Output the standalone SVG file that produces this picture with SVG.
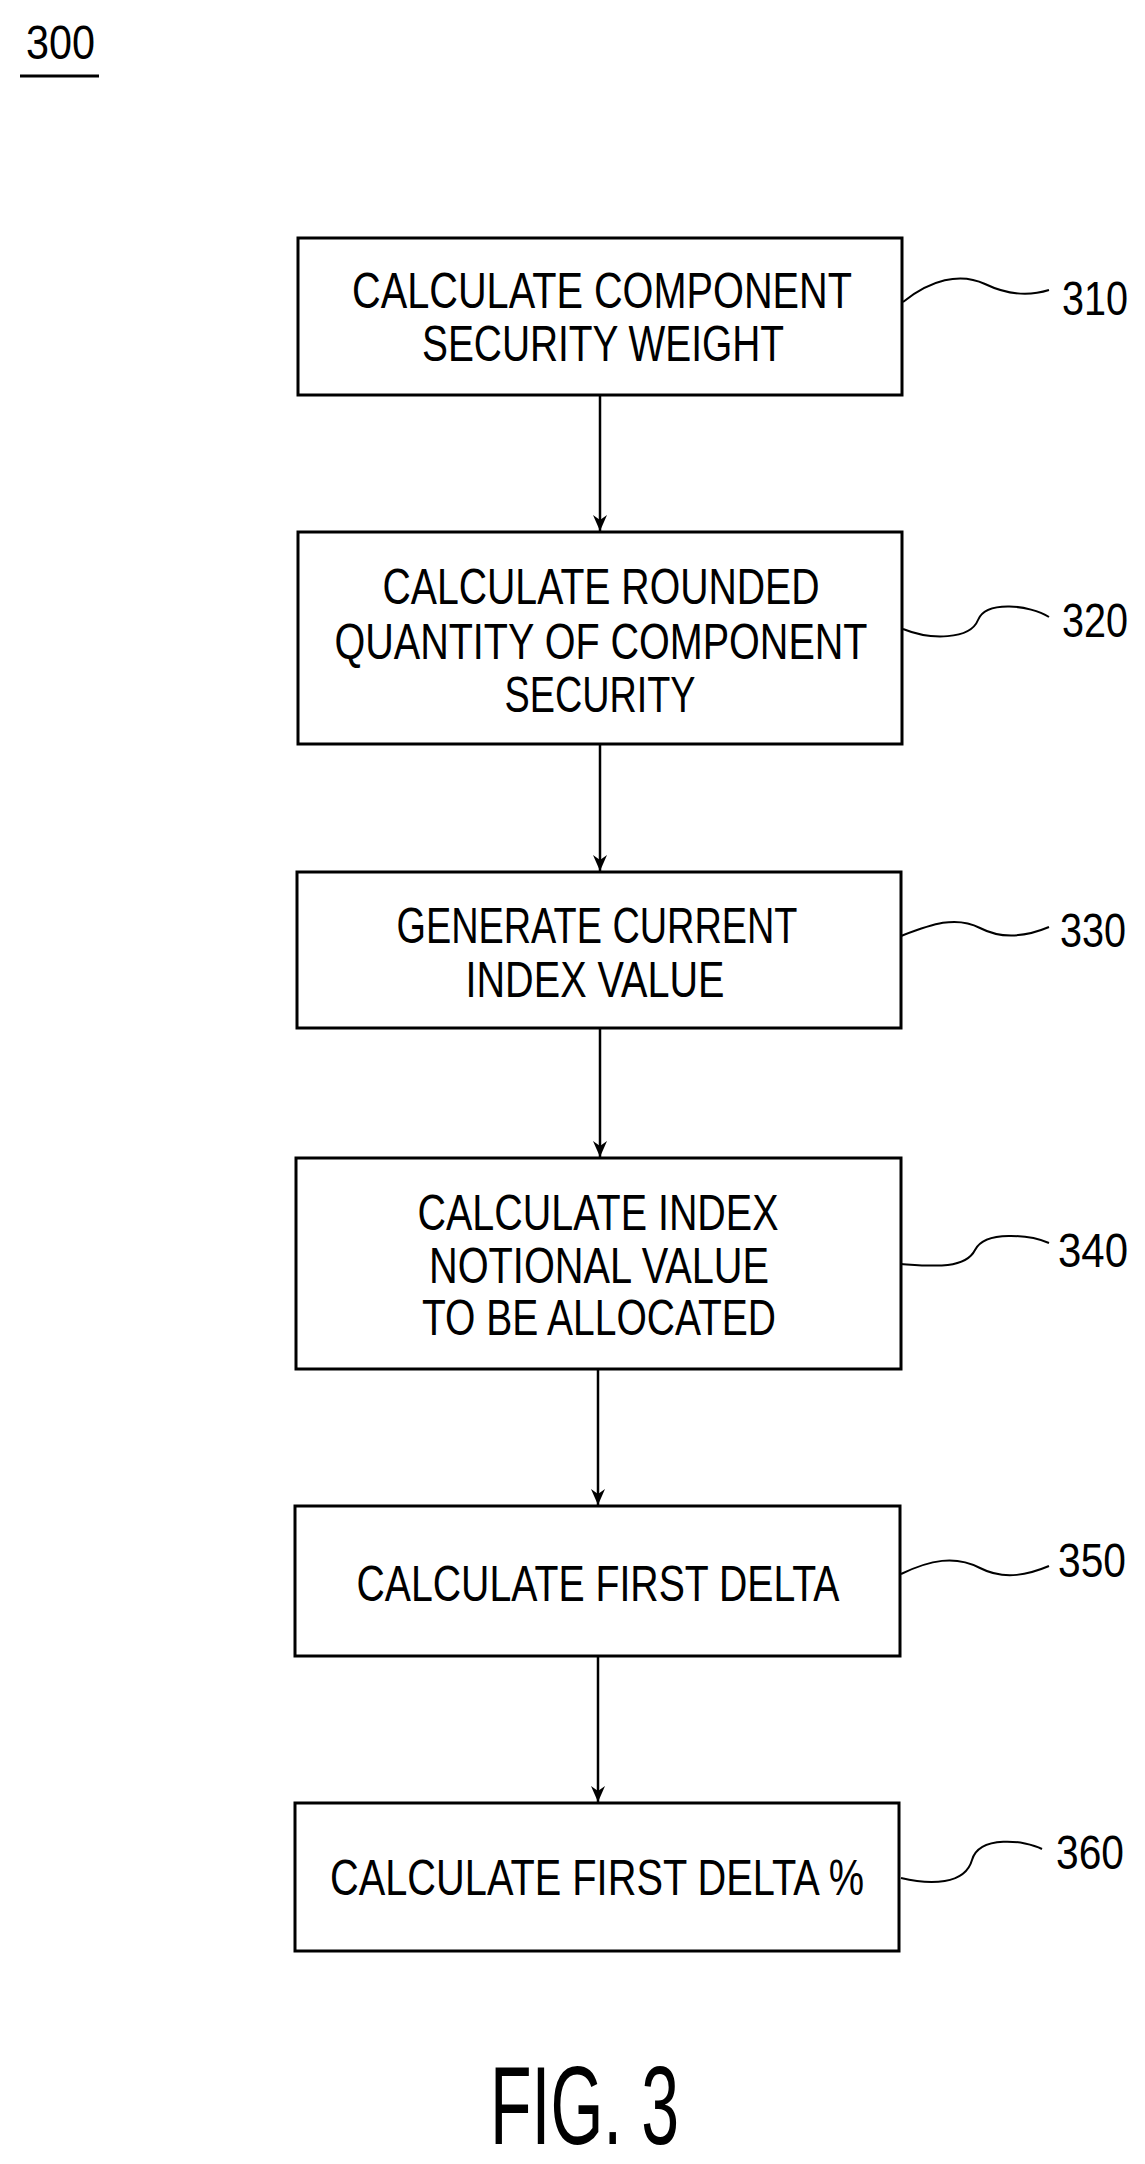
<svg xmlns="http://www.w3.org/2000/svg" width="1145" height="2164" viewBox="0 0 1145 2164">
<style>
.box{fill:#fff;stroke:#000;stroke-width:3}
.t{font-family:"Liberation Sans",Arial,sans-serif;font-size:50px;text-anchor:middle;fill:#000}
.lbl{font-family:"Liberation Sans",Arial,sans-serif;font-size:48px;fill:#000}
.c{stroke:#000;stroke-width:2.5;fill:none}
.w{stroke:#000;stroke-width:2;fill:none}
</style>
<defs><marker id="ah" markerWidth="16" markerHeight="14" refX="16" refY="7" orient="auto" markerUnits="userSpaceOnUse" viewBox="0 0 16 14"><path d="M0,0 L16,7 L0,14 L5,7 Z" fill="#000"/></marker></defs>
<rect width="1145" height="2164" fill="#fff"/>
<g id="title"><text x="26" y="59" class="lbl" font-size="44" textLength="69" lengthAdjust="spacingAndGlyphs">300</text><line x1="20" y1="76" x2="99" y2="76" stroke="#000" stroke-width="3"/></g>
<g id="connectors">
<line class="c" x1="600" y1="395" x2="600" y2="531" marker-end="url(#ah)"/>
<line class="c" x1="600" y1="744" x2="600" y2="871" marker-end="url(#ah)"/>
<line class="c" x1="600" y1="1028" x2="600" y2="1157" marker-end="url(#ah)"/>
<line class="c" x1="598" y1="1369" x2="598" y2="1505" marker-end="url(#ah)"/>
<line class="c" x1="598" y1="1656" x2="598" y2="1802" marker-end="url(#ah)"/>
<path class="w" d="M903,302 C930,280 960,272 985,284 S1030,296 1049,290"/>
<path class="w" d="M903,629 C930,640 970,640 978,620 S1030,605 1049,617"/>
<path class="w" d="M901,936 C930,925 955,915 980,928 S1030,935 1049,927"/>
<path class="w" d="M901,1264 C930,1266 965,1270 975,1250 S1030,1235 1049,1243"/>
<path class="w" d="M901,1574 C930,1560 955,1555 980,1568 S1030,1574 1049,1566"/>
<path class="w" d="M901,1878 C930,1885 965,1885 972,1860 S1025,1840 1042,1849"/>
</g>
<g id="n310"><rect class="box" x="298" y="238" width="604" height="157"/>
<text class="t" x="602" y="308" textLength="500" lengthAdjust="spacingAndGlyphs">CALCULATE COMPONENT</text>
<text class="t" x="603" y="361" textLength="362" lengthAdjust="spacingAndGlyphs">SECURITY WEIGHT</text>
<text class="lbl" x="1062" y="315" textLength="66" lengthAdjust="spacingAndGlyphs">310</text></g>
<g id="n320"><rect class="box" x="298" y="532" width="604" height="212"/>
<text class="t" x="601" y="604" textLength="437" lengthAdjust="spacingAndGlyphs">CALCULATE ROUNDED</text>
<text class="t" x="601" y="659" textLength="533" lengthAdjust="spacingAndGlyphs">QUANTITY OF COMPONENT</text>
<text class="t" x="600" y="712" textLength="191" lengthAdjust="spacingAndGlyphs">SECURITY</text>
<text class="lbl" x="1062" y="637" textLength="66" lengthAdjust="spacingAndGlyphs">320</text></g>
<g id="n330"><rect class="box" x="297" y="872" width="604" height="156"/>
<text class="t" x="597" y="943" textLength="401" lengthAdjust="spacingAndGlyphs">GENERATE CURRENT</text>
<text class="t" x="595" y="997" textLength="259" lengthAdjust="spacingAndGlyphs">INDEX VALUE</text>
<text class="lbl" x="1060" y="947" textLength="66" lengthAdjust="spacingAndGlyphs">330</text></g>
<g id="n340"><rect class="box" x="296" y="1158" width="605" height="211"/>
<text class="t" x="598" y="1230" textLength="361" lengthAdjust="spacingAndGlyphs">CALCULATE INDEX</text>
<text class="t" x="599" y="1283" textLength="340" lengthAdjust="spacingAndGlyphs">NOTIONAL VALUE</text>
<text class="t" x="599" y="1335" textLength="354" lengthAdjust="spacingAndGlyphs">TO BE ALLOCATED</text>
<text class="lbl" x="1058" y="1267" textLength="70" lengthAdjust="spacingAndGlyphs">340</text></g>
<g id="n350"><rect class="box" x="295" y="1506" width="605" height="150"/>
<text class="t" x="598" y="1601" textLength="483" lengthAdjust="spacingAndGlyphs">CALCULATE FIRST DELTA</text>
<text class="lbl" x="1058" y="1577" textLength="68" lengthAdjust="spacingAndGlyphs">350</text></g>
<g id="n360"><rect class="box" x="295" y="1803" width="604" height="148"/>
<text class="t" x="597" y="1895" textLength="534" lengthAdjust="spacingAndGlyphs">CALCULATE FIRST DELTA %</text>
<text class="lbl" x="1056" y="1869" textLength="68" lengthAdjust="spacingAndGlyphs">360</text></g>
<g id="fig"><text x="490" y="2144" font-family="Liberation Sans,Arial,sans-serif" font-size="112" textLength="189" lengthAdjust="spacingAndGlyphs">FIG. 3</text></g>
</svg>
